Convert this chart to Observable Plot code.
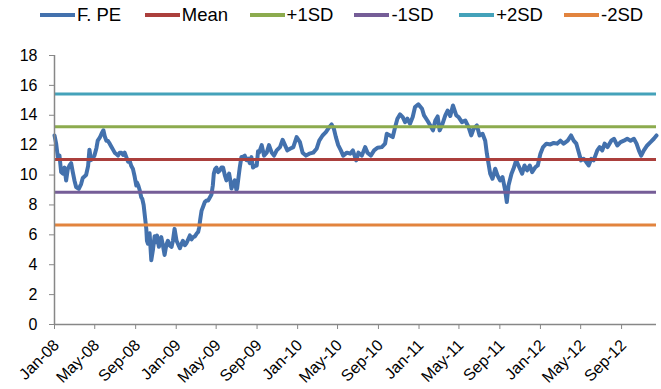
<!DOCTYPE html>
<html>
<head>
<meta charset="utf-8">
<script src="https://cdn.jsdelivr.net/npm/d3@7"></script>
<script src="https://cdn.jsdelivr.net/npm/@observablehq/plot@0.6"></script>
<style>
  body { margin: 0; background: #fff; font-family: "Liberation Sans", Arial, sans-serif; }
  #legend { position: relative; width: 661px; height: 30px; }
  .item { position: absolute; top: 0; height: 30px; display: flex; align-items: center; font-size: 18.5px; color: #000; white-space: nowrap; }
  .sw { width: 35px; height: 4px; margin-right: 2px; }
</style>
</head>
<body>
<div id="legend"></div>
<div id="chart"></div>
<script>
// Forward P/E history
const dates = [
  "2008-01-01","2008-01-06","2008-01-11","2008-01-16","2008-01-21","2008-01-26","2008-01-31","2008-02-05","2008-02-10","2008-02-15",
  "2008-02-20","2008-02-25","2008-03-01","2008-03-06","2008-03-14","2008-03-21","2008-03-26","2008-04-05","2008-04-11","2008-04-15",
  "2008-04-20","2008-04-25","2008-04-30","2008-05-06","2008-05-10","2008-05-16","2008-05-22","2008-05-27","2008-05-31","2008-06-05",
  "2008-06-09","2008-06-15","2008-06-20","2008-06-25","2008-06-30","2008-07-05","2008-07-10","2008-07-15","2008-07-20","2008-07-25",
  "2008-07-30","2008-08-04","2008-08-09","2008-08-14","2008-08-19","2008-08-24","2008-08-29","2008-09-03","2008-09-05","2008-09-09",
  "2008-09-13","2008-09-18","2008-09-21","2008-09-25","2008-09-28","2008-10-03","2008-10-05","2008-10-08","2008-10-13","2008-10-18",
  "2008-10-23","2008-10-28","2008-11-02","2008-11-04","2008-11-10","2008-11-17","2008-11-22","2008-11-27","2008-12-02","2008-12-07",
  "2008-12-12","2008-12-18","2008-12-22","2008-12-27","2009-01-02","2009-01-06","2009-01-12","2009-01-17","2009-01-21","2009-01-27",
  "2009-02-01","2009-02-06","2009-02-11","2009-02-16","2009-02-21","2009-02-26","2009-03-03","2009-03-08","2009-03-11","2009-03-14",
  "2009-03-18","2009-03-23","2009-03-28","2009-04-02","2009-04-07","2009-04-12","2009-04-17","2009-04-21","2009-04-24","2009-04-28",
  "2009-05-02","2009-05-07","2009-05-12","2009-05-17","2009-05-22","2009-05-27","2009-06-01","2009-06-05","2009-06-09","2009-06-13",
  "2009-06-16","2009-06-21","2009-06-26","2009-07-01","2009-07-03","2009-07-07","2009-07-11","2009-07-16","2009-07-19","2009-07-26",
  "2009-07-31","2009-08-05","2009-08-10","2009-08-15","2009-08-20","2009-08-25","2009-08-31","2009-09-04","2009-09-07","2009-09-15",
  "2009-09-22","2009-09-30","2009-10-07","2009-10-15","2009-10-22","2009-10-30","2009-11-09","2009-11-17","2009-11-24","2009-12-01",
  "2009-12-09","2009-12-19","2009-12-29","2010-01-08","2010-01-16","2010-01-26","2010-02-05","2010-02-17","2010-02-27","2010-03-07",
  "2010-03-17","2010-03-27","2010-04-06","2010-04-13","2010-04-20","2010-04-26","2010-05-03","2010-05-11","2010-05-18","2010-05-29",
  "2010-06-08","2010-06-16","2010-06-26","2010-07-03","2010-07-13","2010-07-23","2010-07-30","2010-08-09","2010-08-19","2010-08-29",
  "2010-09-11","2010-09-21","2010-09-26","2010-10-06","2010-10-14","2010-10-21","2010-10-28","2010-11-05","2010-11-13","2010-11-20",
  "2010-11-27","2010-12-05","2010-12-13","2010-12-20","2010-12-30","2011-01-10","2011-01-16","2011-01-26","2011-02-04","2011-02-12",
  "2011-02-19","2011-02-26","2011-03-04","2011-03-11","2011-03-21","2011-03-28","2011-04-05","2011-04-13","2011-04-23","2011-04-30",
  "2011-05-10","2011-05-20","2011-05-30","2011-06-07","2011-06-14","2011-06-24","2011-07-02","2011-07-11","2011-07-19","2011-07-24",
  "2011-07-29","2011-08-03","2011-08-10","2011-08-18","2011-08-25","2011-09-02","2011-09-09","2011-09-17","2011-09-22","2011-09-27",
  "2011-10-06","2011-10-12","2011-10-20","2011-10-27","2011-11-07","2011-11-14","2011-11-22","2011-11-30","2011-12-07","2011-12-17",
  "2011-12-24","2012-01-01","2012-01-09","2012-01-19","2012-01-31","2012-02-10","2012-02-20","2012-03-01","2012-03-11","2012-03-23",
  "2012-04-02","2012-04-10","2012-04-18","2012-04-25","2012-05-02","2012-05-10","2012-05-18","2012-05-25","2012-06-02","2012-06-09",
  "2012-06-20","2012-06-27","2012-07-05","2012-07-12","2012-07-21","2012-08-01","2012-08-09","2012-08-19","2012-08-29","2012-09-08",
  "2012-09-18","2012-09-28","2012-10-08","2012-10-16","2012-10-23","2012-10-30","2012-11-07","2012-11-17","2012-11-27","2012-12-07",
  "2012-12-15"
];
const peValues = [
  12.65,12.1,11.2,11.3,10.2,10.1,10.5,9.64,10.4,10.64,
  10.8,10.2,9.64,9.2,9.08,9.4,9.8,10.0,10.6,11.7,
  11.0,11.1,11.3,11.8,12.3,12.5,12.8,13.0,12.6,12.3,
  12.3,12.1,11.9,11.7,11.5,11.4,11.3,11.5,11.5,11.35,
  11.5,11.2,10.9,10.95,10.6,10.4,9.9,9.3,9.5,9.3,
  9.0,8.5,8.4,8.0,7.4,6.4,5.6,5.4,6.1,4.3,
  5.0,5.9,5.5,5.96,5.2,5.85,5.3,4.65,5.3,5.6,
  5.3,5.2,5.6,6.4,5.6,5.4,5.1,5.4,5.6,5.3,
  5.45,5.7,5.96,5.7,5.85,5.9,6.07,6.2,6.5,7.0,
  7.6,7.9,8.2,8.3,8.3,8.5,8.7,9.3,10.1,10.4,
  10.5,10.2,10.3,10.5,10.5,10.0,9.64,9.9,10.1,9.6,
  9.1,9.4,9.64,9.0,9.1,9.8,10.5,11.2,11.2,11.3,
  11.0,11.1,10.8,11.2,10.5,10.6,10.64,11.6,11.5,12.0,
  11.3,11.5,12.0,11.5,11.3,11.65,11.87,12.36,12.0,11.65,
  11.76,11.87,12.54,12.2,11.5,11.3,11.43,11.5,11.76,12.3,
  12.65,12.87,13.2,13.39,13.1,12.54,12.0,11.65,11.3,11.5,
  11.43,11.65,10.98,11.5,11.3,11.87,11.5,11.3,11.65,11.83,
  11.87,12.1,12.76,12.65,12.54,13.2,13.77,14.06,13.88,13.54,
  13.77,13.43,13.88,14.55,14.73,14.44,13.99,13.65,13.32,12.99,
  13.65,13.92,12.99,13.32,13.99,14.32,13.95,14.66,13.99,13.88,
  13.54,13.65,13.2,12.65,13.1,13.32,12.65,12.76,12.3,11.43,
  10.76,10.09,9.75,10.42,9.97,9.64,9.86,8.97,8.19,9.3,
  10.09,10.42,10.98,10.64,10.09,10.64,10.31,10.64,10.2,10.53,
  10.64,11.43,11.87,12.1,12.05,12.15,12.1,12.3,12.1,12.3,
  12.65,12.3,12.1,11.54,10.98,11.09,10.87,10.64,11.09,10.98,
  11.65,11.87,11.65,12.1,11.87,12.3,12.43,11.98,12.2,12.3,
  12.43,12.3,12.43,12.1,11.65,11.3,11.65,11.98,12.2,12.43,
  12.65
];

// Reference levels: mean and +/- 1 and 2 standard deviations
const levelNames = ["Mean", "+1SD", "-1SD", "+2SD", "-2SD"];
const levelValues = [11.04, 13.23, 8.85, 15.42, 6.66];
const seriesNames = ["F. PE", ...levelNames];
const seriesColors = ["#4371ad", "#ab3f3c", "#8cab4e", "#755d97", "#44a2ba", "#e2843e"];

// Axis ticks
const yTicks = [0, 2, 4, 6, 8, 10, 12, 14, 16, 18];
const xTickDates = [
  "2008-01-01","2008-05-01","2008-09-01","2009-01-01","2009-05-01","2009-09-01","2010-01-01","2010-05-01",
  "2010-09-01","2011-01-01","2011-05-01","2011-09-01","2012-01-01","2012-05-01","2012-09-01"
];
const xStart = "2008-01-01";
const xEnd = "2012-12-15";

const parse = d3.utcParse("%Y-%m-%d");
const peData = dates.map((d, i) => ({date: parse(d), pe: peValues[i]}));
const levels = levelNames.map((name, i) => ({name, value: levelValues[i], color: seriesColors[i + 1]}));
const xTicks = xTickDates.map(parse);
const axisGray = "#878787";

// Legend row
const legend = d3.select("#legend");
seriesNames.forEach((name, i) => {
  const item = legend.append("div").attr("class", "item").style("left", `${40 + i * 104.8}px`);
  item.append("div").attr("class", "sw").style("background", seriesColors[i]);
  item.append("span").text(name);
});

const chart = Plot.plot({
  width: 661,
  height: 359,
  marginLeft: 54,
  marginRight: 5,
  marginTop: 25,
  marginBottom: 65,
  style: {fontFamily: "'Liberation Sans', Arial, sans-serif", fontSize: "16px", color: "#000", background: "#fff", overflow: "visible"},
  x: {type: "utc", domain: [parse(xStart), parse(xEnd)]},
  y: {domain: [0, 18]},
  marks: [
    Plot.lineY(peData, {x: "date", y: "pe", stroke: seriesColors[0], strokeWidth: 4, strokeLinejoin: "round"}),
    Plot.ruleY(levels, {y: "value", stroke: "color", strokeWidth: 3}),
    Plot.ruleX([parse(xStart)], {stroke: axisGray, strokeWidth: 1.5}),
    Plot.ruleY([0], {stroke: axisGray, strokeWidth: 1.5}),
    Plot.axisY({ticks: yTicks, tickSize: 5, tickPadding: 12, stroke: axisGray, fontSize: 16, label: null}),
    // tick marks below the date axis
    Plot.axisX({ticks: xTicks, tickSize: 5, fill: "none", stroke: axisGray, label: null}),
    // rotated month labels
    Plot.axisX({
      ticks: xTicks,
      tickFormat: d3.utcFormat("%b-%y"),
      tickRotate: -45,
      tickSize: 0,
      tickPadding: 18,
      dx: 2,
      fontSize: 16,
      label: null
    })
  ]
});
document.getElementById("chart").appendChild(chart);
</script>
</body>
</html>
